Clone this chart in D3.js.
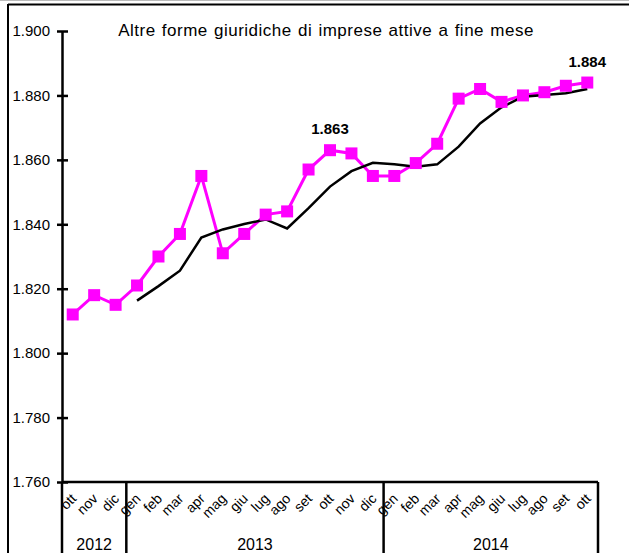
<!DOCTYPE html>
<html>
<head>
<meta charset="utf-8">
<script src="https://cdn.jsdelivr.net/npm/d3@7"></script>
<style>
  body { margin: 0; background: #fff; }
  svg text { font-family: Arial, "Liberation Sans", sans-serif; fill: #000; }
</style>
</head>
<body>
<div id="chart"></div>
<script>
// dati (migliaia di imprese)
var mesi = ["ott","nov","dic","gen","feb","mar","apr","mag","giu","lug","ago","set","ott","nov","dic",
            "gen","feb","mar","apr","mag","giu","lug","ago","set","ott"];
var anni = ["2012","2012","2012","2013","2013","2013","2013","2013","2013","2013","2013","2013","2013","2013","2013",
            "2014","2014","2014","2014","2014","2014","2014","2014","2014","2014"];
var imprese = [1812,1818,1815,1821,1830,1837,1855,1831,1837,1843,1844,1857,1863,1862,1855,
               1855,1859,1865,1879,1882,1878,1880,1881,1883,1884];
var mediaMobile = [null,null,null,1816.3,1820.8,1825.6,1835.9,1838.4,1840.1,1841.5,1838.7,1845.0,1851.7,1856.5,1859.1,
                   1858.6,1857.9,1858.6,1864.1,1871.3,1876.3,1879.6,1880.1,1880.7,1882.0];
var yTicks = [1760,1780,1800,1820,1840,1860,1880,1900];
var etichette = [12, 24]; // indici con valore in grassetto
var titolo = "Altre forme giuridiche di imprese attive a fine mese";

var W = 629, H = 553;
var margin = { left: 62, right: 598, top: 31, bottom: 482 };

var itFormat = d3.formatLocale({decimal: ",", thousands: ".", grouping: [3], currency: ["€", ""]}).format(",.0f");

var svg = d3.select("#chart").append("svg")
    .attr("width", W)
    .attr("height", H);

// cornice esterna
svg.append("line").attr("x1", 0).attr("x2", W).attr("y1", 0.5).attr("y2", 0.5)
    .attr("stroke", "#bbb").attr("stroke-width", 1);
svg.append("line").attr("x1", 8).attr("x2", W).attr("y1", 4.5).attr("y2", 4.5)
    .attr("stroke", "#000").attr("stroke-width", 2);
svg.append("line").attr("x1", 8).attr("x2", 8).attr("y1", 4).attr("y2", H)
    .attr("stroke", "#000").attr("stroke-width", 2);

var keys = mesi.map(function(m, i) { return i; });

var x = d3.scaleBand()
    .domain(keys)
    .range([margin.left, margin.right]);

var y = d3.scaleLinear()
    .domain([1760, 1900])
    .range([margin.bottom, margin.top]);

var cx = function(i) { return x(i) + x.bandwidth() / 2; };

// titolo
svg.append("text")
    .attr("x", 326)
    .attr("y", 36)
    .attr("text-anchor", "middle")
    .style("font-size", "17px")
    .style("letter-spacing", "0.5px")
    .style("word-spacing", "1px")
    .text(titolo);

// asse y
var yAxis = d3.axisLeft(y)
    .tickValues(yTicks)
    .tickFormat(itFormat)
    .tickSizeInner(5)
    .tickSizeOuter(0)
    .tickPadding(7);

var gy = svg.append("g")
    .attr("transform", "translate(" + margin.left + ",0)")
    .call(yAxis);
gy.select(".domain").attr("stroke-width", 2.5);
gy.selectAll(".tick line").attr("x1", -5).attr("x2", 6).attr("stroke-width", 2.5);
gy.selectAll(".tick text").style("font-size", "15px").style("font-family", "Arial, 'Liberation Sans', sans-serif");

// asse x
svg.append("line")
    .attr("x1", margin.left).attr("x2", margin.right)
    .attr("y1", margin.bottom).attr("y2", margin.bottom)
    .attr("stroke", "#000").attr("stroke-width", 2.5);

svg.append("line")
    .attr("x1", margin.left).attr("x2", margin.left)
    .attr("y1", margin.bottom).attr("y2", H)
    .attr("stroke", "#000").attr("stroke-width", 2.5);

// separatori degli anni
var gruppi = d3.groups(keys, function(i) { return anni[i]; });
gruppi.forEach(function(g) {
    var first = g[1][0], last = g[1][g[1].length - 1];
    var x0 = x(first), x1 = x(last) + x.bandwidth();
    svg.append("line")
        .attr("x1", x1).attr("x2", x1)
        .attr("y1", margin.bottom).attr("y2", H)
        .attr("stroke", "#000").attr("stroke-width", 2.5);
    svg.append("text")
        .attr("x", (x0 + x1) / 2)
        .attr("y", 550)
        .attr("text-anchor", "middle")
        .style("font-size", "16px")
        .text(g[0]);
});

svg.selectAll(".mese")
    .data(keys)
    .enter().append("text")
    .attr("class", "mese")
    .attr("transform", function(i) { return "translate(" + (cx(i) + 1) + ",496) rotate(-45)"; })
    .attr("text-anchor", "end")
    .attr("dy", "0.35em")
    .style("font-size", "14px")
    .text(function(i) { return mesi[i]; });

// linee
var lineaMedia = d3.line()
    .defined(function(d) { return d != null; })
    .x(function(d, i) { return cx(i); })
    .y(function(d) { return y(d); });

var linea = d3.line()
    .x(function(d, i) { return cx(i); })
    .y(function(d) { return y(d); });

svg.append("path")
    .datum(imprese)
    .attr("fill", "none")
    .attr("stroke", "#ff00ff")
    .attr("stroke-width", 3)
    .attr("d", linea);

svg.append("path")
    .datum(mediaMobile)
    .attr("fill", "none")
    .attr("stroke", "#000")
    .attr("stroke-width", 2.5)
    .attr("d", lineaMedia);

var s = 12;
svg.selectAll(".punto")
    .data(imprese)
    .enter().append("rect")
    .attr("class", "punto")
    .attr("x", function(d, i) { return cx(i) - s / 2; })
    .attr("y", function(d) { return y(d) - s / 2; })
    .attr("width", s)
    .attr("height", s)
    .attr("fill", "#ff00ff");

svg.selectAll(".valore")
    .data(etichette)
    .enter().append("text")
    .attr("class", "valore")
    .attr("x", function(i) { return cx(i); })
    .attr("y", function(i) { return y(imprese[i]) - 16; })
    .attr("text-anchor", "middle")
    .style("font-size", "15px")
    .style("font-weight", "bold")
    .text(function(i) { return itFormat(imprese[i]); });
</script>
</body>
</html>
